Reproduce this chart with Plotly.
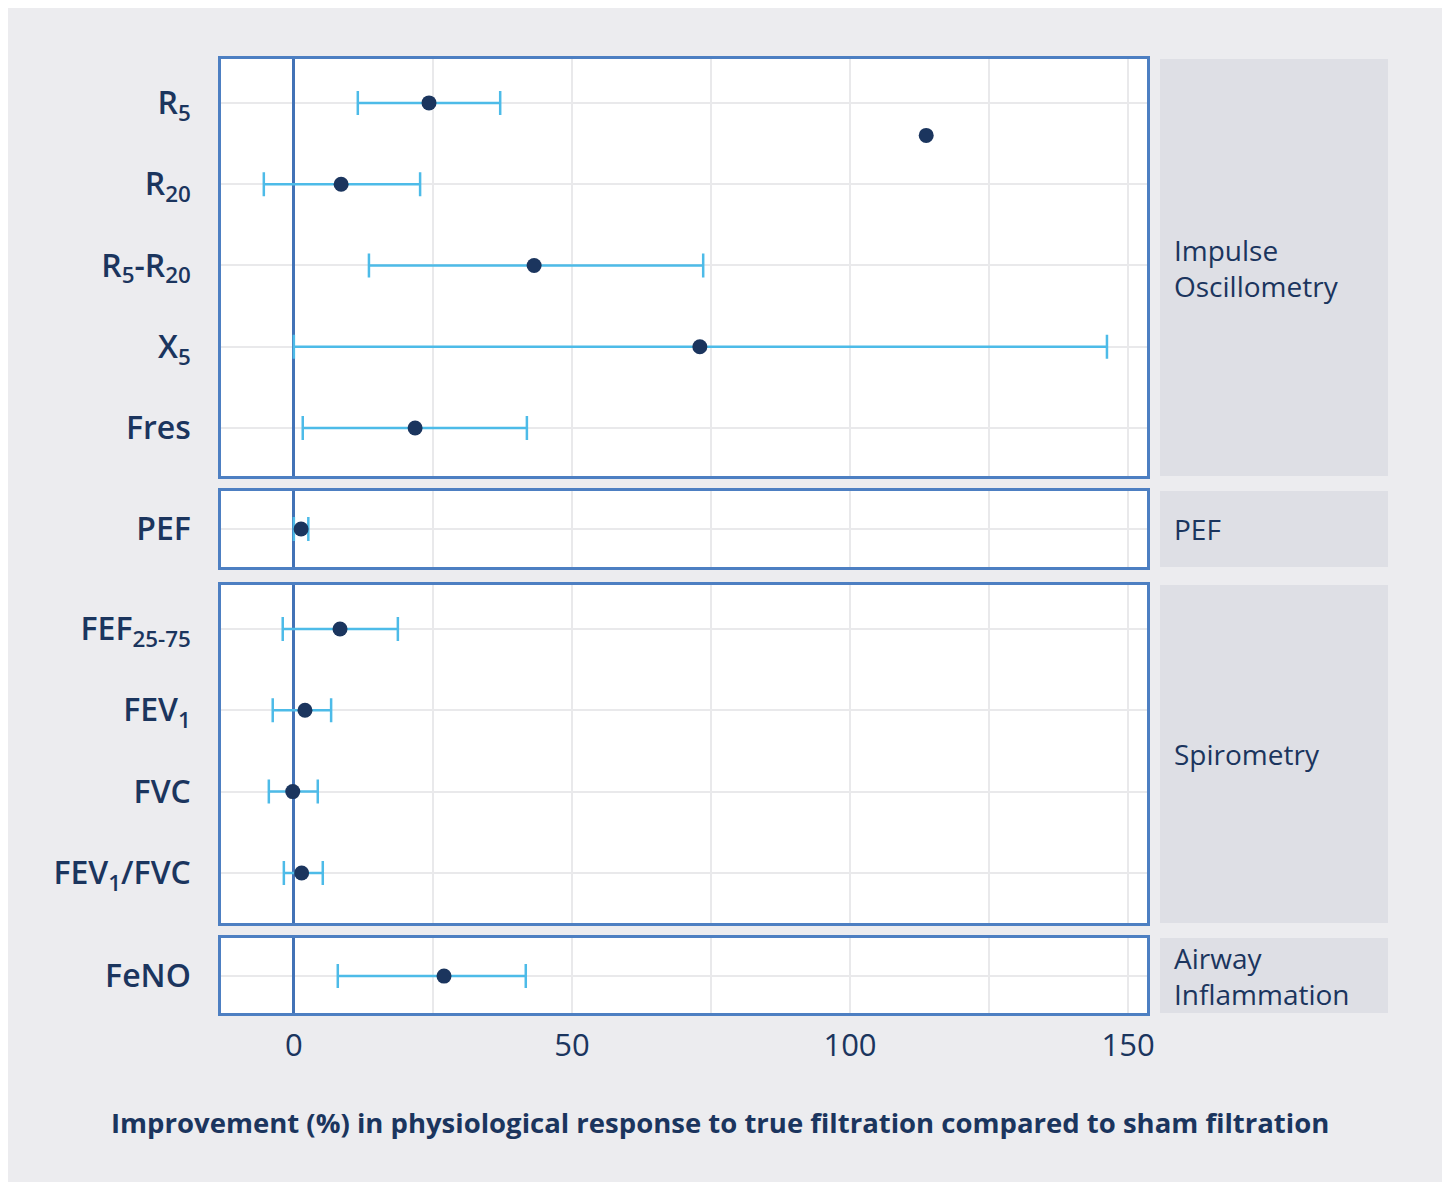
import plotly.graph_objects as go

# ---------------- data ----------------
ios_labels = ["R<sub>5</sub>", "R<sub>20</sub>", "R<sub>5</sub>-R<sub>20</sub>", "X<sub>5</sub>", "Fres"]
ios_mean = [24.3, 8.5, 43.2, 73.0, 21.8]
ios_low = [11.5, -5.4, 13.5, 0.0, 1.6]
ios_high = [37.1, 22.7, 73.6, 146.2, 41.9]

pef_labels = ["PEF"]
pef_mean = [1.3]
pef_low = [0.0]
pef_high = [2.6]

spiro_labels = ["FEF<sub>25-75</sub>", "FEV<sub>1</sub>", "FVC", "FEV<sub>1</sub>/FVC"]
spiro_mean = [8.3, 2.0, -0.2, 1.4]
spiro_low = [-2.0, -3.8, -4.5, -1.8]
spiro_high = [18.7, 6.7, 4.3, 5.2]

feno_labels = ["FeNO"]
feno_mean = [27.0]
feno_low = [7.9]
feno_high = [41.7]

# stray point plotted in the Impulse Oscillometry panel (between R5 and R20)
extra_x = [113.7]
extra_y = [0.4]

panel_names = ["Impulse<br>Oscillometry", "PEF", "Spirometry", "Airway<br>Inflammation"]
x_ticks = [0, 50, 100, 150]
x_title = "Improvement (%) in physiological response to true filtration compared to sham filtration"

# ---------------- style ----------------
NAVY = "#1b355e"
LIGHTBLUE = "#4dbbe8"
BORDER = "#4d7fc2"
ZERO = "#4272b6"
GRID = "#e9e9eb"
BG = "#ececef"
STRIP = "#dedfe5"
FONT = "Open Sans"

OFF = 8  # page body margin
W, H = 1435, 1174
# plot-area bounds, in screenshot pixel coordinates
L, R, T, B = 221, 1147, 59, 1013


def py2paper(py):
    return (B - py) / (B - T)


def px2paper(px):
    return (px - L) / (R - L)


panels = [
    (ios_labels, ios_mean, ios_low, ios_high, (59, 476), [4.59, -0.54]),
    (pef_labels, pef_mean, pef_low, pef_high, (491, 567), [0.47, -0.47]),
    (spiro_labels, spiro_mean, spiro_low, spiro_high, (585, 923), [3.615, -0.54]),
    (feno_labels, feno_mean, feno_low, feno_high, (938, 1013), [0.455, -0.47]),
]

fig = go.Figure()
layout = {}
shapes = []
annotations = []

for i, (labels, mean, low, high, (ptop, pbot), yrange) in enumerate(panels):
    n = i + 1
    xa = "x" if n == 1 else f"x{n}"
    ya = "y" if n == 1 else f"y{n}"
    ypos = list(range(len(labels)))
    fig.add_trace(go.Scatter(
        x=mean, y=ypos, xaxis=xa, yaxis=ya, mode="markers",
        marker=dict(color=NAVY, size=15, line=dict(width=0)),
        error_x=dict(type="data", symmetric=False,
                     array=[h - m for h, m in zip(high, mean)],
                     arrayminus=[m - l for m, l in zip(mean, low)],
                     color=LIGHTBLUE, thickness=2.5, width=12),
        showlegend=False, hoverinfo="x+y",
    ))
    if n == 1:
        fig.add_trace(go.Scatter(
            x=extra_x, y=extra_y, xaxis=xa, yaxis=ya, mode="markers",
            marker=dict(color=NAVY, size=15), showlegend=False))

    xkey = "xaxis" if n == 1 else f"xaxis{n}"
    ykey = "yaxis" if n == 1 else f"yaxis{n}"
    last = (n == len(panels))
    layout[xkey] = dict(
        anchor=ya, domain=[0, 1], range=[-13.1, 153.4],
        tickvals=x_ticks, showticklabels=last,
        tickfont=dict(family=FONT, size=31, color=NAVY, weight=400),
        ticklabelstandoff=3,
        showgrid=True, gridcolor=GRID, gridwidth=1.5,
        minor=dict(dtick=25, tick0=0, showgrid=True, gridcolor=GRID, gridwidth=1.5),
        zeroline=True, zerolinecolor=ZERO, zerolinewidth=2.5,
        showline=True, mirror=True, linecolor=BORDER, linewidth=2.5,
        ticks="", fixedrange=True,
    )
    if n > 1:
        layout[xkey]["matches"] = "x"
    layout[ykey] = dict(
        anchor=xa, domain=[py2paper(pbot), py2paper(ptop)], range=yrange,
        tickvals=ypos, ticktext=labels,
        tickfont=dict(family=FONT, size=32, color=NAVY, weight=600),
        ticklabelstandoff=21,
        showgrid=True, gridcolor=GRID, gridwidth=1.5, zeroline=False,
        showline=True, mirror=True, linecolor=BORDER, linewidth=2.5,
        ticks="", fixedrange=True,
    )

    # facet strip
    shapes.append(dict(type="rect", xref="paper", yref="paper", layer="below",
                       x0=px2paper(1160), x1=px2paper(1388),
                       y0=py2paper(pbot), y1=py2paper(ptop),
                       fillcolor=STRIP, line=dict(width=0)))
    annotations.append(dict(xref="paper", yref="paper", x=px2paper(1172),
                            y=py2paper((ptop + pbot) / 2), xanchor="left", yanchor="middle",
                            align="left", showarrow=False, text=panel_names[i],
                            font=dict(family=FONT, size=28, color=NAVY, weight=500)))

annotations.append(dict(xref="paper", yref="paper", x=px2paper(720), y=py2paper(1122),
                        xanchor="center", yanchor="middle", showarrow=False,
                        text="<b>" + x_title + "</b>",
                        font=dict(family=FONT, size=27.5, color=NAVY)))

fig.update_layout(
    width=W, height=H,
    margin=dict(l=L - OFF, r=W - (R - OFF), t=T - OFF, b=H - (B - OFF), autoexpand=False),
    paper_bgcolor=BG, plot_bgcolor="white",
    shapes=shapes, annotations=annotations, showlegend=False,
    **layout,
)

fig.write_html("out.html", config={"displayModeBar": False})
